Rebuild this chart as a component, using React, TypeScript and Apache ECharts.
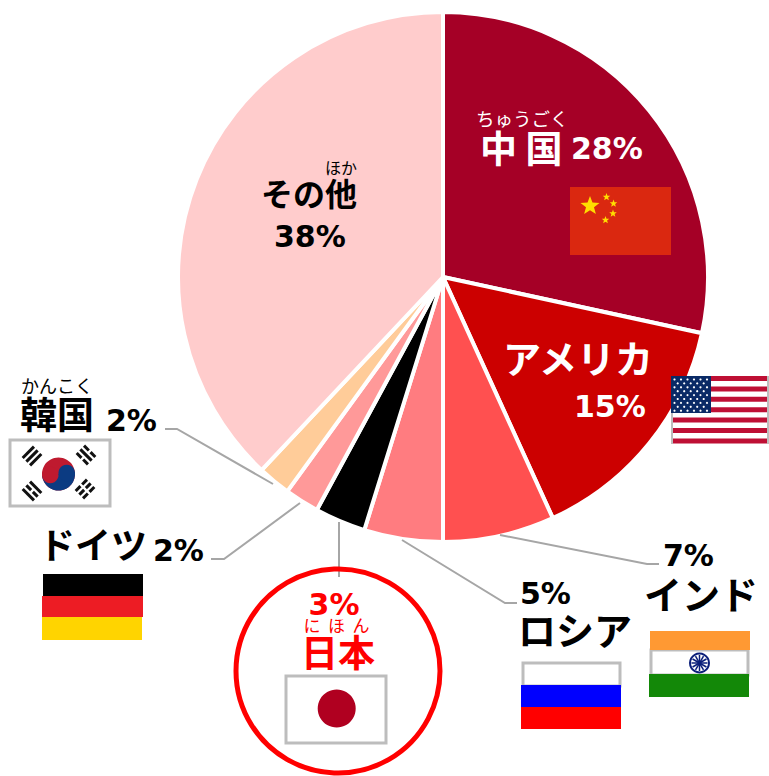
import React, { useEffect, useRef } from "react";
import * as echarts from "echarts";

const categories = ["中国", "アメリカ", "インド", "ロシア", "日本", "ドイツ", "韓国", "その他"];
const values = [28.4, 14.8, 6.8, 4.8, 3.1, 2.1, 2.0, 38.0];
const percentLabels = ["28%", "15%", "7%", "5%", "3%", "2%", "2%", "38%"];
const colors = ["#A50026", "#CC0000", "#FF5050", "#FF7C80", "#000000", "#FF9999", "#FFCC99", "#FFCCCC"];

const JP = "'Noto Sans CJK JP'";
const NUM = "'DejaVu Sans'";
const Z = 20;

const txt = (text: string, x: number, y: number, size: number, fill: string, bold = true, family = JP, align = "left") => ({
  type: "text",
  z: Z,
  style: {
    text,
    x,
    y,
    fill,
    font: `${bold ? "bold " : ""}${size}px ${family}`,
    textAlign: align,
    textVerticalAlign: "middle",
  },
});
const pct = (i: number, x: number, y: number, fill = "#000") => txt(percentLabels[i], x, y, 30, fill, true, NUM);
const rect = (x: number, y: number, w: number, h: number, fill: string, extra: any = {}) => ({
  type: "rect",
  z: Z,
  shape: { x, y, width: w, height: h },
  style: { fill },
  ...extra,
});
const frame = (x: number, y: number, w: number, h: number) => ({
  type: "rect",
  z: Z + 1,
  shape: { x, y, width: w, height: h },
  style: { fill: "none", stroke: "#BDBDBD", lineWidth: 3 },
});
const circle = (cx: number, cy: number, r: number, fill: string, z = Z + 1) => ({
  type: "circle",
  z,
  shape: { cx, cy, r },
  style: { fill },
});
const star = (cx: number, cy: number, r: number, fill: string) => {
  const points: number[][] = [];
  for (let i = 0; i < 10; i++) {
    const a = -Math.PI / 2 + (i * Math.PI) / 5;
    const rr = i % 2 === 0 ? r : r * 0.42;
    points.push([cx + rr * Math.cos(a), cy + rr * Math.sin(a)]);
  }
  return { type: "polygon", z: Z + 1, shape: { points }, style: { fill } };
};
const leader = (points: number[][]) => ({
  type: "polyline",
  z: Z,
  shape: { points },
  style: { fill: "none", stroke: "#A6A6A6", lineWidth: 2 },
});
const trigram = (cx: number, cy: number, deg: number, broken: boolean[]) => {
  const a = (deg * Math.PI) / 180;
  const els: any[] = [];
  broken.forEach((b, i) => {
    const off = (i - 1) * 5.2;
    const lens = b ? [[-8, -1.2], [1.2, 8]] : [[-8, 8]];
    lens.forEach(([s, e]) => {
      els.push({
        type: "line",
        z: Z + 1,
        shape: {
          x1: cx + off * Math.cos(a) + s * -Math.sin(a),
          y1: cy + off * Math.sin(a) + s * Math.cos(a),
          x2: cx + off * Math.cos(a) + e * -Math.sin(a),
          y2: cy + off * Math.sin(a) + e * Math.cos(a),
        },
        style: { stroke: "#111", lineWidth: 3 },
      });
    });
  });
  return els;
};

const usStars = () => {
  const out: any[] = [];
  for (let r = 0; r < 9; r++) {
    const n = r % 2 === 0 ? 6 : 5;
    for (let c = 0; c < n; c++) {
      out.push(circle(674.5 + (r % 2 === 0 ? 0 : 3.2) + c * 6.5, 379.5 + r * 3.9, 1.1, "#FFFFFF", Z + 2));
    }
  }
  return out;
};
const usStripes = () => {
  const out: any[] = [rect(671, 376, 98, 68, "#FFFFFF")];
  for (let i = 0; i < 7; i++) {
    out.push(rect(671, 376 + i * 10.4, 98, 5, "#BE0F34"));
  }
  out.push({ type: "line", z: Z, shape: { x1: 672, y1: 376, x2: 672, y2: 444 }, style: { stroke: "#BDBDBD", lineWidth: 2 } });
  out.push({ type: "line", z: Z, shape: { x1: 768, y1: 376, x2: 768, y2: 444 }, style: { stroke: "#BDBDBD", lineWidth: 2 } });
  out.push(rect(671, 376, 40, 37, "#0A2A66", { z: Z + 1 }));
  return out;
};
const indiaSpokes = () => {
  const out: any[] = [];
  for (let i = 0; i < 12; i++) {
    const a = (i * Math.PI) / 6;
    out.push({
      type: "line",
      z: Z + 2,
      shape: { x1: 699.5, y1: 663, x2: 699.5 + 8 * Math.cos(a), y2: 663 + 8 * Math.sin(a) },
      style: { stroke: "#0B1F7A", lineWidth: 1.5 },
    });
  }
  return out;
};

const graphicElements: any[] = [
  // China
  txt("ちゅうごく", 476, 118, 18.5, "#FFFFFF", false),
  txt("中 国", 480, 147, 37, "#FFFFFF"),
  pct(0, 571, 148, "#FFFFFF"),
  rect(570, 187, 101, 68, "#DA2810"),
  star(590, 206, 10, "#FFDD00"),
  star(606.5, 197, 4, "#FFDD00"),
  star(613.5, 203.5, 4, "#FFDD00"),
  star(613, 213.5, 4, "#FFDD00"),
  star(605.5, 220, 4, "#FFDD00"),
  // USA
  txt("アメリカ", 503, 356, 38, "#FFFFFF"),
  pct(1, 574, 406, "#FFFFFF"),
  ...usStripes(),
  ...usStars(),
  // Other
  txt("ほか", 325, 167, 16, "#000", false),
  txt("その他", 261, 192, 32, "#000"),
  pct(7, 274, 236),
  // Korea
  txt("かんこく", 21, 385, 18, "#000", false),
  txt("韓国", 20, 413, 37, "#000"),
  pct(6, 106, 420),
  leader([[165, 429], [177, 429], [273, 484]]),
  rect(10, 440, 100, 66, "#FFFFFF"),
  frame(10, 440, 100, 66),
  circle(58.5, 474, 16.5, "#BF1A2F"),
  {
    type: "sector",
    z: Z + 2,
    shape: { cx: 58.5, cy: 474, r: 16.5, r0: 0, startAngle: -0.12, endAngle: Math.PI - 0.12 },
    style: { fill: "#0B3B82" },
  },
  circle(50.3, 475, 8.25, "#BF1A2F", Z + 3),
  circle(66.7, 473, 8.25, "#0B3B82", Z + 3),
  ...trigram(32, 456, 45, [false, false, false]),
  ...trigram(86, 455, -45, [true, false, true]),
  ...trigram(32, 491, -45, [false, true, false]),
  ...trigram(85, 489, 45, [true, true, true]),
  // Germany
  txt("ドイツ", 39, 543, 36, "#000"),
  pct(5, 153, 550),
  leader([[211, 559], [224, 559], [300, 503]]),
  rect(43, 574, 100, 22, "#000000"),
  rect(42, 596, 101, 21, "#ED1C24"),
  rect(42, 617, 100, 23, "#FFD400"),
  // Japan
  leader([[339, 522], [339, 577]]),
  {
    type: "circle",
    z: Z,
    shape: { cx: 338, cy: 671, r: 102 },
    style: { fill: "none", stroke: "#FF0000", lineWidth: 5 },
  },
  txt(percentLabels[4], 334, 604, 30, "#FF0000", true, NUM, "center"),
  txt("に  ほ  ん", 336.5, 624, 17, "#FF0000", false, JP, "center"),
  txt(categories[4], 338, 651, 37, "#FF0000", true, JP, "center"),
  rect(286, 676, 100, 67, "#FFFFFF"),
  frame(286, 676, 100, 67),
  circle(336.7, 708.5, 19, "#B00020"),
  // Russia
  pct(3, 520, 593),
  txt(categories[3], 518, 628, 38, "#000"),
  leader([[402, 540], [505, 603], [517, 603]]),
  rect(522, 662, 98, 23, "#FFFFFF"),
  frame(523, 663, 97, 23),
  rect(521, 685, 100, 22, "#0000FF", { z: Z + 2 }),
  rect(521, 707, 100, 22, "#FF0000", { z: Z + 2 }),
  // India
  pct(2, 663, 555),
  txt(categories[2], 644, 592, 38, "#000"),
  leader([[500, 535], [647, 564], [659, 564]]),
  rect(651, 650, 97, 25, "#FFFFFF"),
  frame(651, 650, 97, 25),
  rect(650, 631, 100, 19, "#FF9933", { z: Z + 2 }),
  rect(649, 674, 100, 23, "#138808", { z: Z + 2 }),
  circle(699.5, 663, 10.5, "#0B1F7A"),
  circle(699.5, 663, 8.5, "#FFFFFF", Z + 1.5),
  ...indiaSpokes(),
];

export default function App() {
  const ref = useRef<HTMLDivElement>(null);
  useEffect(() => {
    const chart = echarts.init(ref.current!, undefined, { renderer: "svg" });
    chart.setOption({
      animation: false,
      backgroundColor: "#FFFFFF",
      series: [
        {
          type: "pie",
          center: [443, 277],
          radius: [0, 265],
          startAngle: 90,
          clockwise: true,
          silent: true,
          label: { show: false },
          labelLine: { show: false },
          itemStyle: { borderColor: "#FFFFFF", borderWidth: 4 },
          data: categories.map((name, i) => ({
            name,
            value: values[i],
            itemStyle: { color: colors[i] },
          })),
        },
      ],
      graphic: { elements: graphicElements },
    });
    return () => chart.dispose();
  }, []);
  return <div ref={ref} style={{ position: "absolute", left: 0, top: 0, width: 769, height: 776 }} />;
}
